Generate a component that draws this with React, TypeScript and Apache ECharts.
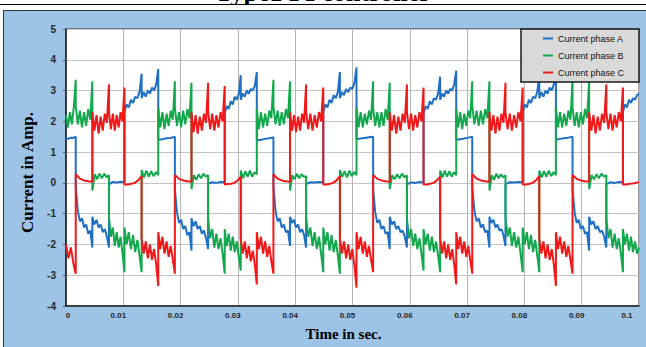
import React, { useEffect, useRef } from 'react';
import * as echarts from 'echarts';

// Commutation instants (s): start of each 60-degree sector
const sectorEdges: number[] = [
  0, 0.0017, 0.0046, 0.0075, 0.0102, 0.0132, 0.0161, 0.019, 0.0219, 0.0248, 0.0277, 0.0305,
  0.0333, 0.0362, 0.0391, 0.0419, 0.0449, 0.0478, 0.0507, 0.0536, 0.0565, 0.0595, 0.0624,
  0.0653, 0.0681, 0.0709, 0.0739, 0.0767, 0.0797, 0.0826, 0.0855, 0.0884, 0.0913, 0.0943,
  0.0972, 0.1,
];

// Current samples (A) inside each sector
const phaseA: number[][] = [
  [1.45, 1.43, 1.47, 1.46, 1.5],
  [-0.15, -0.9, -1.25, -1.15, -1.45, -1.35, -1.65, -1.55, -2.1],
  [-1.1, -1.35, -1.2, -1.45, -1.35, -1.6, -1.5, -1.75, -2.1],
  [-0.05, 0.03, 0.01, 0.04, 0.02],
  [2.3, 2.55, 2.45, 2.7, 2.6, 2.8, 2.75, 2.95, 3.55],
  [2.75, 2.95, 2.8, 3.0, 2.9, 3.1, 3.0, 3.2, 3.7],
  [1.4, 1.42, 1.45, 1.46, 1.5],
  [-0.2, -0.95, -1.3, -1.2, -1.5, -1.4, -1.7, -1.6, -2.2],
  [-1.15, -1.4, -1.25, -1.5, -1.4, -1.65, -1.55, -1.8, -2.15],
  [-0.03, 0.02, 0.0, 0.03, 0.02],
  [2.25, 2.5, 2.4, 2.65, 2.55, 2.8, 2.7, 2.9, 3.5],
  [2.7, 2.9, 2.8, 3.0, 2.9, 3.05, 3.0, 3.15, 3.6],
  [1.38, 1.4, 1.43, 1.45, 1.48],
  [-0.1, -0.9, -1.25, -1.15, -1.45, -1.35, -1.6, -1.55, -2.05],
  [-1.1, -1.3, -1.2, -1.45, -1.35, -1.6, -1.5, -1.7, -2.1],
  [-0.04, 0.02, 0.01, 0.03, 0.02],
  [2.3, 2.55, 2.45, 2.7, 2.6, 2.85, 2.75, 2.95, 3.6],
  [2.75, 2.95, 2.85, 3.05, 2.95, 3.1, 3.05, 3.25, 3.75],
  [1.42, 1.44, 1.46, 1.48, 1.5],
  [-0.2, -0.95, -1.3, -1.2, -1.5, -1.4, -1.65, -1.6, -2.15],
  [-1.1, -1.35, -1.25, -1.5, -1.4, -1.6, -1.55, -1.75, -2.1],
  [-0.05, 0.02, 0.0, 0.03, 0.01],
  [2.25, 2.5, 2.4, 2.65, 2.55, 2.75, 2.7, 2.9, 3.45],
  [2.7, 2.9, 2.8, 3.0, 2.9, 3.05, 3.0, 3.2, 3.65],
  [1.4, 1.42, 1.44, 1.47, 1.5],
  [-0.15, -0.9, -1.25, -1.15, -1.45, -1.35, -1.6, -1.55, -2.1],
  [-1.1, -1.3, -1.2, -1.45, -1.35, -1.55, -1.5, -1.7, -2.05],
  [-0.04, 0.02, 0.01, 0.03, 0.02],
  [2.3, 2.55, 2.45, 2.7, 2.6, 2.8, 2.75, 2.95, 3.5],
  [2.75, 2.95, 2.8, 3.0, 2.9, 3.1, 3.0, 3.2, 3.6],
  [1.4, 1.43, 1.45, 1.47, 1.5],
  [-0.2, -0.95, -1.3, -1.2, -1.5, -1.4, -1.65, -1.6, -2.2],
  [-1.1, -1.35, -1.25, -1.5, -1.4, -1.6, -1.55, -1.75, -2.1],
  [-0.04, 0.02, 0.0, 0.03, 0.02],
  [2.3, 2.55, 2.45, 2.7, 2.6, 2.75, 2.7, 2.85, 2.9],
];

// Current samples (B)
const phaseB: number[][] = [
  [2.2, 1.8, 2.3, 1.9, 2.45, 3.35],
  [2.5, 1.9, 2.35, 1.8, 2.3, 1.85, 2.4, 2.05, 3.3],
  [-0.25, 0.28, 0.12, 0.3, 0.15, 0.3, 0.18, 0.25],
  [-1.1, -1.75, -1.45, -2.05, -1.6, -2.1, -1.75, -2.3, -2.9],
  [-1.45, -2.0, -1.6, -2.15, -1.7, -2.25, -1.85, -2.35, -2.9],
  [0.42, 0.18, 0.4, 0.2, 0.38, 0.22, 0.35, 0.25],
  [2.45, 1.8, 2.3, 1.75, 2.25, 1.85, 2.35, 2.05, 3.3],
  [2.45, 1.85, 2.3, 1.8, 2.35, 1.9, 2.4, 2.1, 3.25],
  [-0.2, 0.25, 0.1, 0.28, 0.15, 0.3, 0.2, 0.25],
  [-1.15, -1.8, -1.5, -2.1, -1.65, -2.15, -1.8, -2.3, -2.95],
  [-1.5, -2.05, -1.65, -2.2, -1.75, -2.25, -1.9, -2.4, -2.85],
  [0.4, 0.15, 0.38, 0.2, 0.4, 0.2, 0.35, 0.28],
  [2.4, 1.75, 2.3, 1.8, 2.25, 1.85, 2.35, 2.1, 3.35],
  [2.5, 1.9, 2.35, 1.85, 2.3, 1.9, 2.4, 2.1, 3.3],
  [-0.25, 0.25, 0.12, 0.3, 0.15, 0.28, 0.2, 0.22],
  [-1.1, -1.75, -1.45, -2.05, -1.6, -2.15, -1.75, -2.3, -2.9],
  [-1.45, -2.0, -1.6, -2.2, -1.7, -2.25, -1.85, -2.35, -2.95],
  [0.42, 0.2, 0.38, 0.18, 0.4, 0.22, 0.35, 0.25],
  [2.45, 1.8, 2.3, 1.8, 2.25, 1.9, 2.35, 2.05, 3.3],
  [2.45, 1.85, 2.3, 1.8, 2.3, 1.85, 2.4, 2.05, 3.25],
  [-0.2, 0.25, 0.12, 0.28, 0.15, 0.3, 0.18, 0.25],
  [-1.15, -1.8, -1.5, -2.05, -1.65, -2.15, -1.8, -2.3, -2.85],
  [-1.5, -2.0, -1.65, -2.2, -1.75, -2.25, -1.9, -2.35, -2.9],
  [0.4, 0.18, 0.4, 0.2, 0.38, 0.2, 0.35, 0.25],
  [2.4, 1.8, 2.3, 1.75, 2.25, 1.85, 2.35, 2.1, 3.3],
  [2.5, 1.9, 2.35, 1.85, 2.35, 1.9, 2.4, 2.1, 3.3],
  [-0.25, 0.25, 0.1, 0.3, 0.15, 0.28, 0.18, 0.25],
  [-1.1, -1.75, -1.45, -2.05, -1.6, -2.1, -1.75, -2.3, -2.9],
  [-1.45, -2.0, -1.6, -2.15, -1.7, -2.25, -1.85, -2.35, -2.9],
  [0.4, 0.18, 0.38, 0.2, 0.4, 0.22, 0.35, 0.25],
  [2.45, 1.8, 2.3, 1.8, 2.25, 1.85, 2.35, 2.05, 3.35],
  [2.45, 1.85, 2.3, 1.8, 2.3, 1.9, 2.4, 2.1, 3.3],
  [-0.2, 0.25, 0.12, 0.28, 0.15, 0.3, 0.2, 0.25],
  [-1.15, -1.8, -1.5, -2.1, -1.65, -2.15, -1.8, -2.3, -2.9],
  [-1.5, -2.0, -1.65, -2.2, -1.75, -2.25, -1.9, -2.3, -2.1],
];

// Current samples (C)
const phaseC: number[][] = [
  [-2.0, -2.45, -2.1, -2.6, -2.95],
  [0.28, 0.14, 0.08, 0.05, 0.04],
  [2.3, 1.7, 2.2, 1.6, 2.15, 1.7, 2.25, 1.95, 3.2],
  [2.3, 1.75, 2.25, 1.7, 2.2, 1.8, 2.3, 2.0, 3.1],
  [-0.05, -0.05, -0.03, 0.0, 0.08, 0.22],
  [-1.8, -2.3, -1.9, -2.45, -2.0, -2.5, -2.15, -2.65, -3.35],
  [-1.6, -2.15, -1.75, -2.3, -1.9, -2.4, -2.05, -2.5, -2.95],
  [0.26, 0.13, 0.08, 0.05, 0.04],
  [2.3, 1.65, 2.2, 1.6, 2.15, 1.7, 2.25, 1.95, 3.25],
  [2.3, 1.75, 2.25, 1.7, 2.2, 1.8, 2.3, 2.0, 3.15],
  [-0.05, -0.04, -0.03, 0.0, 0.08, 0.2],
  [-1.8, -2.3, -1.9, -2.45, -2.05, -2.55, -2.2, -2.65, -3.3],
  [-1.6, -2.15, -1.75, -2.3, -1.9, -2.4, -2.05, -2.55, -2.95],
  [0.28, 0.14, 0.08, 0.05, 0.04],
  [2.3, 1.7, 2.2, 1.65, 2.15, 1.7, 2.25, 1.95, 3.2],
  [2.3, 1.75, 2.25, 1.7, 2.2, 1.8, 2.3, 2.0, 3.1],
  [-0.05, -0.05, -0.03, 0.0, 0.08, 0.22],
  [-1.8, -2.3, -1.9, -2.45, -2.0, -2.5, -2.15, -2.7, -3.4],
  [-1.6, -2.15, -1.75, -2.3, -1.9, -2.4, -2.05, -2.5, -2.9],
  [0.26, 0.13, 0.08, 0.05, 0.04],
  [2.3, 1.7, 2.2, 1.6, 2.15, 1.7, 2.25, 1.95, 3.2],
  [2.3, 1.75, 2.25, 1.7, 2.2, 1.8, 2.3, 2.0, 3.1],
  [-0.05, -0.05, -0.03, 0.0, 0.08, 0.2],
  [-1.8, -2.3, -1.9, -2.45, -2.0, -2.5, -2.15, -2.65, -3.3],
  [-1.6, -2.15, -1.75, -2.3, -1.9, -2.4, -2.05, -2.5, -2.95],
  [0.28, 0.14, 0.08, 0.05, 0.04],
  [2.3, 1.7, 2.2, 1.6, 2.15, 1.7, 2.25, 1.95, 3.25],
  [2.3, 1.75, 2.25, 1.7, 2.2, 1.8, 2.3, 2.0, 3.1],
  [-0.05, -0.05, -0.03, 0.0, 0.08, 0.22],
  [-1.8, -2.3, -1.9, -2.45, -2.0, -2.5, -2.15, -2.65, -3.35],
  [-1.6, -2.15, -1.75, -2.3, -1.9, -2.4, -2.05, -2.5, -2.95],
  [0.26, 0.13, 0.08, 0.05, 0.04],
  [2.3, 1.7, 2.2, 1.6, 2.15, 1.7, 2.25, 1.95, 3.2],
  [2.3, 1.75, 2.25, 1.7, 2.2, 1.8, 2.3, 2.0, 3.1],
  [-0.05, -0.05, -0.03, -0.02, 0.0, 0.02],
];

const seriesNames: string[] = ['Current phase A', 'Current phase B', 'Current phase C'];
const seriesColors: string[] = ['#1f6fc4', '#14a84e', '#f01818'];
const xTickLabels: string[] = ['0', '0.01', '0.02', '0.03', '0.04', '0.05', '0.06', '0.07', '0.08', '0.09', '0.1'];
const titleText = 'Type1 PI controller';
const xName = 'Time in sec.';
const yName = 'Current in Amp.';

function buildSeries(segs: number[][]): [number, number][] {
  const out: [number, number][] = [];
  segs.forEach((vals, s) => {
    const t0 = sectorEdges[s];
    const t1 = sectorEdges[s + 1];
    vals.forEach((v, i) => {
      out.push([t0 + ((t1 - t0) * i) / (vals.length - 1), v]);
    });
  });
  return out;
}

export default function App() {
  const ref = useRef<HTMLDivElement>(null);
  useEffect(() => {
    if (!ref.current) return;
    const chart = echarts.init(ref.current, undefined, { renderer: 'svg' });
    const labelFont = { fontFamily: 'Liberation Sans', fontWeight: 'bold' as const, color: '#262626' };
    const option: any = {
      animation: false,
      backgroundColor: 'transparent',
      title: {
        text: titleText,
        left: 'center',
        top: -21,
        padding: 0,
        textStyle: { fontFamily: 'Liberation Serif', fontWeight: 'bold', fontSize: 26, color: '#000' },
      },
      grid: {
        left: 66,
        top: 29,
        right: 7,
        bottom: 41,
        show: true,
        backgroundColor: '#ffffff',
        borderColor: '#333333',
        borderWidth: 1,
      },
      legend: {
        orient: 'vertical',
        left: 521,
        top: 29,
        padding: [5, 15, 5, 22],
        itemWidth: 10,
        itemHeight: 2,
        itemGap: 8,
        itemTextGap: 3,
        icon: 'rect',
        backgroundColor: '#d9d9d9',
        borderColor: '#1a1a1a',
        borderWidth: 1.5,
        textStyle: { fontFamily: 'Liberation Sans', fontSize: 9, color: '#111' },
        data: seriesNames,
      },
      xAxis: {
        type: 'value',
        min: 0,
        max: 0.1,
        interval: 0.01,
        name: xName,
        nameLocation: 'middle',
        nameGap: 20,
        nameTextStyle: {
          fontFamily: 'Liberation Serif',
          fontWeight: 'bold',
          fontSize: 15,
          color: '#000',
          padding: [0, 18, 0, 0],
        },
        axisLine: { show: true, onZero: false, lineStyle: { color: '#1a1a1a', width: 1.5 } },
        axisTick: { show: false },
        splitLine: { show: true, lineStyle: { color: '#b4b4b4', width: 1 } },
        axisLabel: {
          margin: 5,
          fontSize: 8,
          ...labelFont,
          showMinLabel: true,
          showMaxLabel: true,
          formatter: (v: number) => {
            const i = Math.round(v / 0.01);
            const s = xTickLabels[i];
            if (i === 0) return `{first|${s}}`;
            if (i === xTickLabels.length - 1) return `{last|${s}}`;
            return `{mid|${s}}`;
          },
          rich: {
            first: { fontSize: 8, ...labelFont, padding: [0, 0, 0, 4] },
            mid: { fontSize: 8, ...labelFont, padding: [0, 10, 0, 0] },
            last: { fontSize: 8, ...labelFont, padding: [0, 24, 0, 0] },
          },
        },
      },
      yAxis: {
        type: 'value',
        min: -4,
        max: 5,
        interval: 1,
        name: yName,
        nameLocation: 'middle',
        nameGap: 30,
        nameRotate: 90,
        nameTextStyle: {
          fontFamily: 'Liberation Serif',
          fontWeight: 'bold',
          fontSize: 17,
          color: '#000',
          padding: [0, 10, 0, 0],
        },
        axisLine: { show: true, lineStyle: { color: '#1a1a1a', width: 1.5 } },
        axisTick: { show: true, length: 3, inside: false, lineStyle: { color: '#555' } },
        splitLine: { show: true, lineStyle: { color: '#c4c4c4', width: 1 } },
        axisLabel: { margin: 10, fontSize: 10, ...labelFont },
      },
      series: [phaseA, phaseB, phaseC].map((segs, i) => ({
        name: seriesNames[i],
        type: 'line',
        data: buildSeries(segs),
        showSymbol: false,
        symbol: 'none',
        color: seriesColors[i],
        lineStyle: { color: seriesColors[i], width: 2, join: 'bevel' },
        clip: true,
      })),
    };
    chart.setOption(option);
    return () => chart.dispose();
  }, []);

  return (
    <div style={{ position: 'fixed', left: 0, top: 0, width: 646, height: 347, background: '#fff', overflow: 'hidden' }}>
      <div
        style={{
          position: 'absolute',
          left: 3,
          top: 10,
          width: 700,
          height: 400,
          background: '#9dc3e6',
          borderLeft: '1.5px solid #333',
          borderTop: '1.5px solid #333',
        }}
      />
      <div ref={ref} style={{ position: 'absolute', left: 0, top: 0, width: 646, height: 347 }} />
      <div
        style={{
          position: 'absolute',
          left: 0,
          top: 3.5,
          width: 646,
          height: 5.5,
          background: '#fff',
          borderTop: '1px solid #000',
          zIndex: 2,
        }}
      />
    </div>
  );
}
